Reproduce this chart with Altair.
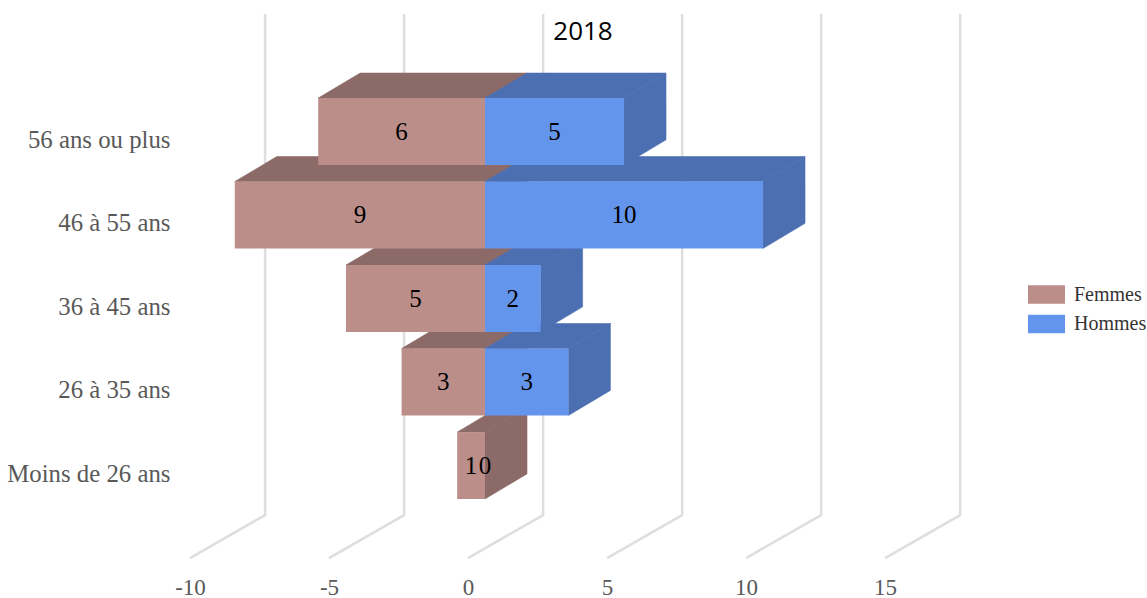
import altair as alt
import pandas as pd

categories = ["Moins de 26 ans", "26 à 35 ans", "36 à 45 ans", "46 à 55 ans", "56 ans ou plus"]
femmes = [1, 3, 5, 9, 6]
hommes = [0, 3, 2, 10, 5]
x_ticks = [-10, -5, 0, 5, 10, 15]

FRONT = {"Femmes": "#bb8e8a", "Hommes": "#6495ed"}
SHADE = {"Femmes": "#8c6a68", "Hommes": "#4c6fb2"}
SERIF = "Liberation Serif"

# Oblique projection, in data units
BAR_SHIFT = 0.61
BAR_DX = 1.51
BAR_DY = 0.30
BAR_HALF = 0.40
WALL_DX = 2.70
FLOOR_FRONT = -1.108
FLOOR_BACK = -0.593
WALL_TOP = 5.407

x_scale = alt.Scale(domain=[-10.54, 24.42], nice=False, zero=False)
y_scale = alt.Scale(domain=[-1.311, 5.575], nice=False, zero=False)

x_enc = alt.X(
    "x:Q", scale=x_scale, stack=None, title=None,
    axis=alt.Axis(
        values=x_ticks, labelExpr="'' + datum.value", grid=False, domain=False, ticks=False,
        labelFont=SERIF, labelFontSize=23, labelColor="#595959", labelPadding=1,
    ),
)
cat_expr = "[" + ",".join(f"'{c}'" for c in categories) + "][datum.value]"
y_enc = alt.Y(
    "y:Q", scale=y_scale, stack=None, title=None,
    axis=alt.Axis(
        values=list(range(len(categories))), labelExpr=cat_expr, grid=False,
        domain=False, ticks=False, labelFont=SERIF, labelFontSize=24.8,
        labelColor="#595959", labelPadding=5, labelOffset=8.5,
    ),
)

# Wall and floor guide behind the bars
grid_rows = []
for t in x_ticks:
    grid_rows += [
        {"tick": t, "step": 0, "x": t, "y": FLOOR_FRONT},
        {"tick": t, "step": 1, "x": t + WALL_DX, "y": FLOOR_BACK},
        {"tick": t, "step": 2, "x": t + WALL_DX, "y": WALL_TOP},
    ]
grid = alt.Chart(pd.DataFrame(grid_rows)).mark_line(
    color="#dedede", strokeWidth=2.5, strokeJoin="round"
).encode(x=x_enc, y=y_enc, detail="tick:N", order="step:Q")


def row_layers(r, women, men):
    """Top, side and front faces of one age group, women first."""
    layers = []
    for name, start, end in (("Femmes", -women, 0), ("Hommes", 0, men)):
        if start == end:
            continue
        lo, hi = start + BAR_SHIFT, end + BAR_SHIFT
        top = pd.DataFrame([
            {"y": r + BAR_HALF, "x": lo, "x2": hi},
            {"y": r + BAR_HALF + BAR_DY, "x": lo + BAR_DX, "x2": hi + BAR_DX},
        ])
        side = pd.DataFrame([
            {"x": hi, "y": r - BAR_HALF, "y2": r + BAR_HALF},
            {"x": hi + BAR_DX, "y": r - BAR_HALF + BAR_DY, "y2": r + BAR_HALF + BAR_DY},
        ])
        front = pd.DataFrame([
            {"x": lo, "x2": hi, "y": r - BAR_HALF, "y2": r + BAR_HALF, "Série": name}
        ])
        layers.append(
            alt.Chart(top).mark_area(
                orient="horizontal", color=SHADE[name], stroke=SHADE[name], strokeWidth=0.6, opacity=1
            ).encode(x=x_enc, x2="x2:Q", y=y_enc)
        )
        layers.append(
            alt.Chart(side).mark_area(
                orient="vertical", color=SHADE[name], stroke=SHADE[name], strokeWidth=0.6, opacity=1
            ).encode(x=x_enc, y=y_enc, y2="y2:Q")
        )
        layers.append(
            alt.Chart(front).mark_rect(opacity=1).encode(
                x=x_enc, x2="x2:Q", y=y_enc, y2="y2:Q",
                color=alt.Color(
                    "Série:N",
                    scale=alt.Scale(domain=list(FRONT), range=list(FRONT.values())),
                    legend=alt.Legend(
                        orient="none", legendX=853, legendY=276, title=None,
                        symbolType="M-1,-0.5H1V0.5H-1Z", symbolSize=1369,
                        symbolStrokeWidth=0, symbolOpacity=1,
                        labelFont=SERIF, labelFontSize=20, labelColor="#333333",
                        labelOffset=9, rowPadding=0.5,
                    ),
                ),
            )
        )
    return layers


bar_layers = []
for r in range(len(categories)):
    bar_layers += row_layers(r, femmes[r], hommes[r])

# Value labels sit at the middle of each front face
label_rows = []
for r in range(len(categories)):
    label_rows.append({"y": r, "x": -femmes[r] / 2 + BAR_SHIFT, "label": str(femmes[r])})
    label_rows.append({"y": r, "x": hommes[r] / 2 + BAR_SHIFT, "label": str(hommes[r])})
labels = alt.Chart(pd.DataFrame(label_rows)).mark_text(
    font=SERIF, fontSize=25, color="#000000", baseline="middle", align="center"
).encode(x=x_enc, y=y_enc, text="label:N")

chart = alt.layer(grid, *bar_layers, labels).properties(
    width=972,
    height=575,
    padding={"left": 175, "top": 0, "right": 0, "bottom": 23},
    autosize=alt.AutoSizeParams(type="none"),
    title=alt.TitleParams(
        "2018", font="Open Sans", fontSize=26, fontWeight="normal", color="#000000",
        anchor="middle", frame="group", dx=-78, dy=49,
    ),
).configure_view(stroke=None)

chart.save("out.html", embed_options={"renderer": "svg", "actions": False})
